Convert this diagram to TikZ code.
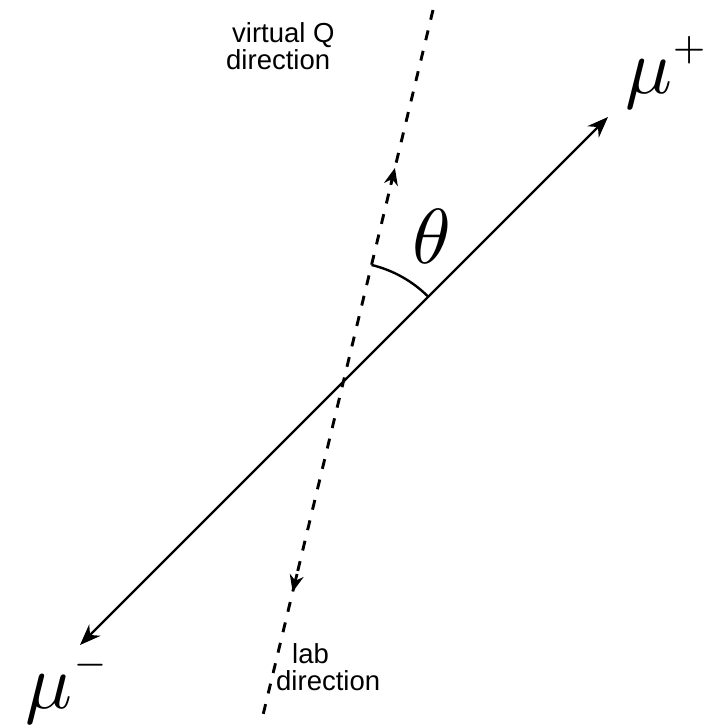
\documentclass[tikz,border=0pt]{standalone}
\usepackage[no-math]{fontspec}
\setmainfont{Liberation Sans}
\usetikzlibrary{arrows.meta,calc}
\newcommand{\hugesym}[1]{\scalebox{7.8}{\fontsize{10}{12}\selectfont$#1$}}
\newcommand{\tinysup}[1]{\raisebox{0.8pt}{\scalebox{0.85}{$\scriptscriptstyle #1$}}}
\tikzset{endtip/.tip={Stealth[length=21pt,width=16pt]},
         midtip/.tip={Stealth[length=17pt,width=14pt]}}
\begin{document}
\begin{tikzpicture}[x=1pt,y=-1pt,
  muon/.style={line width=2.4pt},
  dirline/.style={line width=2.9pt, dash pattern=on 10pt off 11pt},
  midarrow/.style={line width=2.8pt, -{midtip}},
  lbl/.style={font=\fontsize{27.5}{27}\selectfont, align=left, inner sep=0pt},
  big/.style={inner sep=0pt}]
\useasboundingbox (0,0) rectangle (708,725);
\fill[white] (0,0) rectangle (708,725);
\coordinate (T) at (433,10);
\coordinate (B) at (263,715);
\coordinate (P) at (608,117);
\coordinate (M) at (80,645);
\coordinate (O) at (intersection of T--B and P--M);
% lab / virtual direction line
\draw[dirline] (T) -- (B);
\draw[midarrow] ($(T)!0.248!(B)$) coordinate (u1) -- ($(T)!0.224!(B)$) coordinate (u2);
\draw[midarrow] ($(T)!0.80!(B)$) coordinate (d1) -- ($(T)!0.8255!(B)$) coordinate (d2);
% muon line
\draw[muon, {endtip}-{endtip}] (M) -- (P);
% angle
\draw[muon] ($(O)+(-76.44:120)$) coordinate (a1) arc[start angle=-76.44, end angle=-45, radius=120];
\node[big] (th) at (432,236) {\hugesym{\theta}};
% labels
\node[big, anchor=base west] (mup) at (625,93) {\hugesym{\mu^{\tinysup{+}}}};
\node[big, anchor=base west] (mum) at (25,708) {\hugesym{\mu^{\tinysup{-}}}};
\node[lbl, anchor=north west] (vq) at (226,22) {\hspace*{6pt}virtual Q\\direction};
\node[lbl, anchor=north west] (lab) at (276,643) {\hspace*{16pt}lab\\direction};
\end{tikzpicture}
\end{document}
